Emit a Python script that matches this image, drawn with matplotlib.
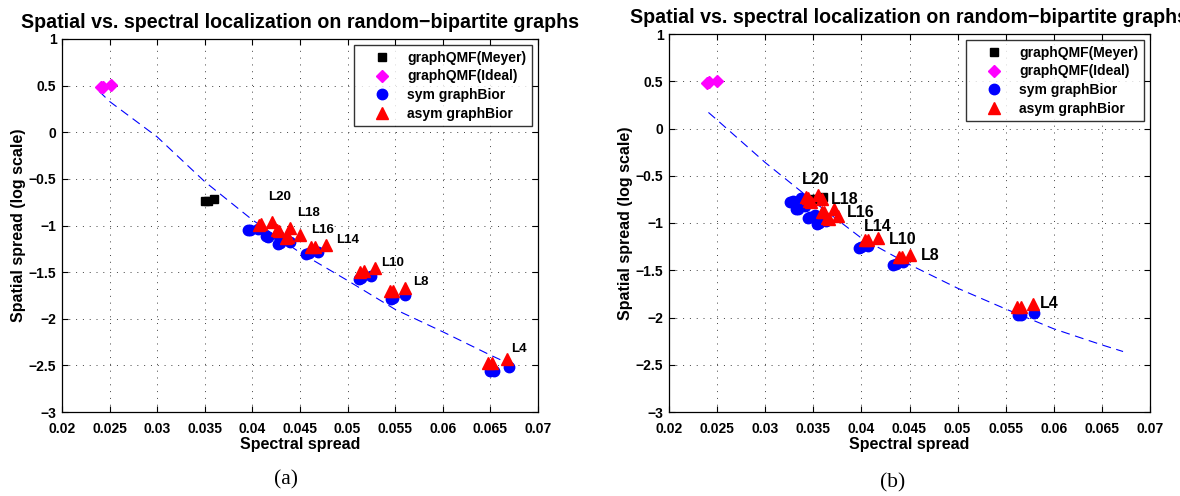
import matplotlib
matplotlib.use('Agg')
import matplotlib.pyplot as plt

plt.rcParams['font.family'] = ['Liberation Sans', 'DejaVu Sans']
plt.rcParams['font.weight'] = 'bold'
plt.rcParams['axes.labelweight'] = 'bold'
plt.rcParams['axes.titleweight'] = 'bold'

# ---------------- data ----------------
labels = ['L20', 'L18', 'L16', 'L14', 'L10', 'L8', 'L4']

# panel (a)
a_ideal_x = [0.0241, 0.0243, 0.0251]
a_ideal_y = [0.48, 0.49, 0.505]
a_meyer_x = [0.0350, 0.0353, 0.0360]
a_meyer_y = [-0.74, -0.735, -0.715]
a_sym_x = [0.0395, 0.0397, 0.0406, 0.0414, 0.0416, 0.0427, 0.0427, 0.0429, 0.0439,
           0.0456, 0.0459, 0.0469, 0.0512, 0.0514, 0.0525, 0.0546, 0.0548, 0.0560,
           0.0650, 0.0654, 0.0670]
a_sym_y = [-1.05, -1.05, -1.035, -1.11, -1.12, -1.10, -1.20, -1.19, -1.175,
           -1.31, -1.30, -1.28, -1.575, -1.565, -1.54, -1.785, -1.775, -1.745,
           -2.565, -2.555, -2.52]
a_asym_x = [0.0407, 0.0409, 0.0421, 0.0426, 0.0428, 0.0439, 0.0435, 0.0437, 0.0450,
            0.0462, 0.0466, 0.0477, 0.0513, 0.0517, 0.0529, 0.0545, 0.0548, 0.0560,
            0.0648, 0.0652, 0.0667]
a_asym_y = [-0.99, -0.985, -0.966, -1.045, -1.06, -1.027, -1.13, -1.12, -1.098,
            -1.23, -1.23, -1.206, -1.495, -1.49, -1.46, -1.705, -1.70, -1.67,
            -2.475, -2.47, -2.43]
a_fit_x = [0.0239, 0.025, 0.03, 0.035, 0.04, 0.045, 0.05, 0.055, 0.06, 0.065, 0.0667]
a_fit_y = [0.44, 0.33, -0.05, -0.53, -0.94, -1.29, -1.59, -1.90, -2.14, -2.39, -2.47]
a_lab_x = [0.0429, 0.0459, 0.0474, 0.0500, 0.0547, 0.0577, 0.0680]
a_lab_y = [-0.69, -0.87, -1.045, -1.16, -1.40, -1.61, -2.32]

# panel (b)
b_ideal_x = [0.0240, 0.0242, 0.0250]
b_ideal_y = [0.485, 0.49, 0.505]
b_meyer_x = [0.0350, 0.0353, 0.0360]
b_meyer_y = [-0.75, -0.745, -0.73]
b_sym_x = [0.0326, 0.0329, 0.0337, 0.0332, 0.0334, 0.0341, 0.0345, 0.0347, 0.0352,
           0.0354, 0.0356, 0.0363, 0.0397, 0.0400, 0.0407, 0.0433, 0.0436, 0.0443,
           0.0563, 0.0566, 0.0579]
b_sym_y = [-0.78, -0.77, -0.74, -0.855, -0.85, -0.825, -0.945, -0.94, -0.915,
           -1.015, -1.005, -0.98, -1.265, -1.255, -1.24, -1.44, -1.435, -1.415,
           -1.975, -1.97, -1.95]
b_asym_x = [0.0342, 0.0345, 0.0355, 0.0346, 0.0348, 0.0359, 0.0359, 0.0361, 0.0371,
            0.0364, 0.0366, 0.0376, 0.0404, 0.0407, 0.0417, 0.0439, 0.0442, 0.0451,
            0.0562, 0.0566, 0.0578]
b_asym_y = [-0.725, -0.735, -0.70, -0.765, -0.775, -0.75, -0.88, -0.885, -0.855,
            -0.95, -0.955, -0.925, -1.185, -1.18, -1.16, -1.365, -1.36, -1.335,
            -1.89, -1.885, -1.86]
b_fit_x = [0.0241, 0.025, 0.03, 0.035, 0.04, 0.045, 0.05, 0.055, 0.06, 0.065, 0.0672]
b_fit_y = [0.17, 0.09, -0.36, -0.77, -1.16, -1.44, -1.69, -1.91, -2.12, -2.29, -2.36]
b_lab_x = [0.0352, 0.0383, 0.0399, 0.0417, 0.0443, 0.0471, 0.0595]
b_lab_y = [-0.54, -0.75, -0.89, -1.035, -1.17, -1.345, -1.855]

xticks = [0.02, 0.025, 0.03, 0.035, 0.04, 0.045, 0.05, 0.055, 0.06, 0.065, 0.07]
xticklabels = ['0.02', '0.025', '0.03', '0.035', '0.04', '0.045', '0.05', '0.055',
               '0.06', '0.065', '0.07']
yticks = [-3, -2.5, -2, -1.5, -1, -0.5, 0, 0.5, 1]
yticklabels = ['\u22123', '\u22122.5', '\u22122', '\u22121.5', '\u22121', '\u22120.5',
               '0', '0.5', '1']

title = 'Spatial vs. spectral localization on random\u2212bipartite graphs'


def draw_panel(ax, ideal, meyer, sym, asym, fit, labs, labsize):
    ax.plot(fit[0], fit[1], color='blue', lw=0.8, dashes=(8, 5), zorder=2)
    ax.plot(meyer[0], meyer[1], 's', color='black', ms=5.5, label='graphQMF(Meyer)', zorder=3)
    ax.plot(ideal[0], ideal[1], 'D', color='magenta', ms=6, label='graphQMF(Ideal)', zorder=3)
    ax.plot(sym[0], sym[1], 'o', color='blue', ms=7.5, mec='blue', label='sym graphBior', zorder=3)
    ax.plot(asym[0], asym[1], '^', color='red', ms=8, mec='red', label='asym graphBior', zorder=4)
    for t, lx, ly in zip(labels, labs[0], labs[1]):
        ax.text(lx, ly, t, fontsize=labsize, fontweight='bold', ha='center', va='center', zorder=5)

    ax.set_xlim(0.02, 0.07)
    ax.set_ylim(-3, 1)
    ax.set_xticks(xticks)
    ax.set_xticklabels(xticklabels)
    ax.set_yticks(yticks)
    ax.set_yticklabels(yticklabels)
    ax.tick_params(direction='in', top=True, right=True, length=4, labelsize=10)
    ax.tick_params(axis='x', pad=7)
    ax.tick_params(axis='y', pad=4)
    ax.grid(True, color='0.25', linestyle=(0, (1, 6)), lw=0.7)
    for s in ax.spines.values():
        s.set_linewidth(0.9)
    ax.set_xlabel('Spectral spread', fontsize=11.5, labelpad=1)
    ax.set_ylabel('Spatial spread (log scale)', fontsize=11.5, labelpad=2)
    ax.set_title(title, fontsize=14.1, pad=8)
    leg = ax.legend(loc='upper right', numpoints=1, fontsize=10, frameon=True, fancybox=False,
                    edgecolor='black', borderaxespad=0.45, handlelength=3.2, handletextpad=0.2,
                    labelspacing=0.33, borderpad=0.4)
    leg.get_frame().set_linewidth(1.0)


fig = plt.figure(figsize=(11.8, 4.96), dpi=100)
ax1 = fig.add_axes([62 / 1180, 84 / 496, 476 / 1180, 373 / 496])
ax2 = fig.add_axes([669 / 1180, 84 / 496, 481 / 1180, 378 / 496])

draw_panel(ax1, (a_ideal_x, a_ideal_y), (a_meyer_x, a_meyer_y), (a_sym_x, a_sym_y),
           (a_asym_x, a_asym_y), (a_fit_x, a_fit_y), (a_lab_x, a_lab_y), 9.5)
draw_panel(ax2, (b_ideal_x, b_ideal_y), (b_meyer_x, b_meyer_y), (b_sym_x, b_sym_y),
           (b_asym_x, b_asym_y), (b_fit_x, b_fit_y), (b_lab_x, b_lab_y), 11.5)

fig.text(286 / 1180, 1 - 480 / 496, '(a)', family=['Liberation Serif', 'DejaVu Serif'],
         fontweight='normal', fontsize=15.5, ha='center', va='center')
fig.text(893 / 1180, 1 - 483 / 496, '(b)', family=['Liberation Serif', 'DejaVu Serif'],
         fontweight='normal', fontsize=15.5, ha='center', va='center')

fig.savefig('out.png', dpi=100)
